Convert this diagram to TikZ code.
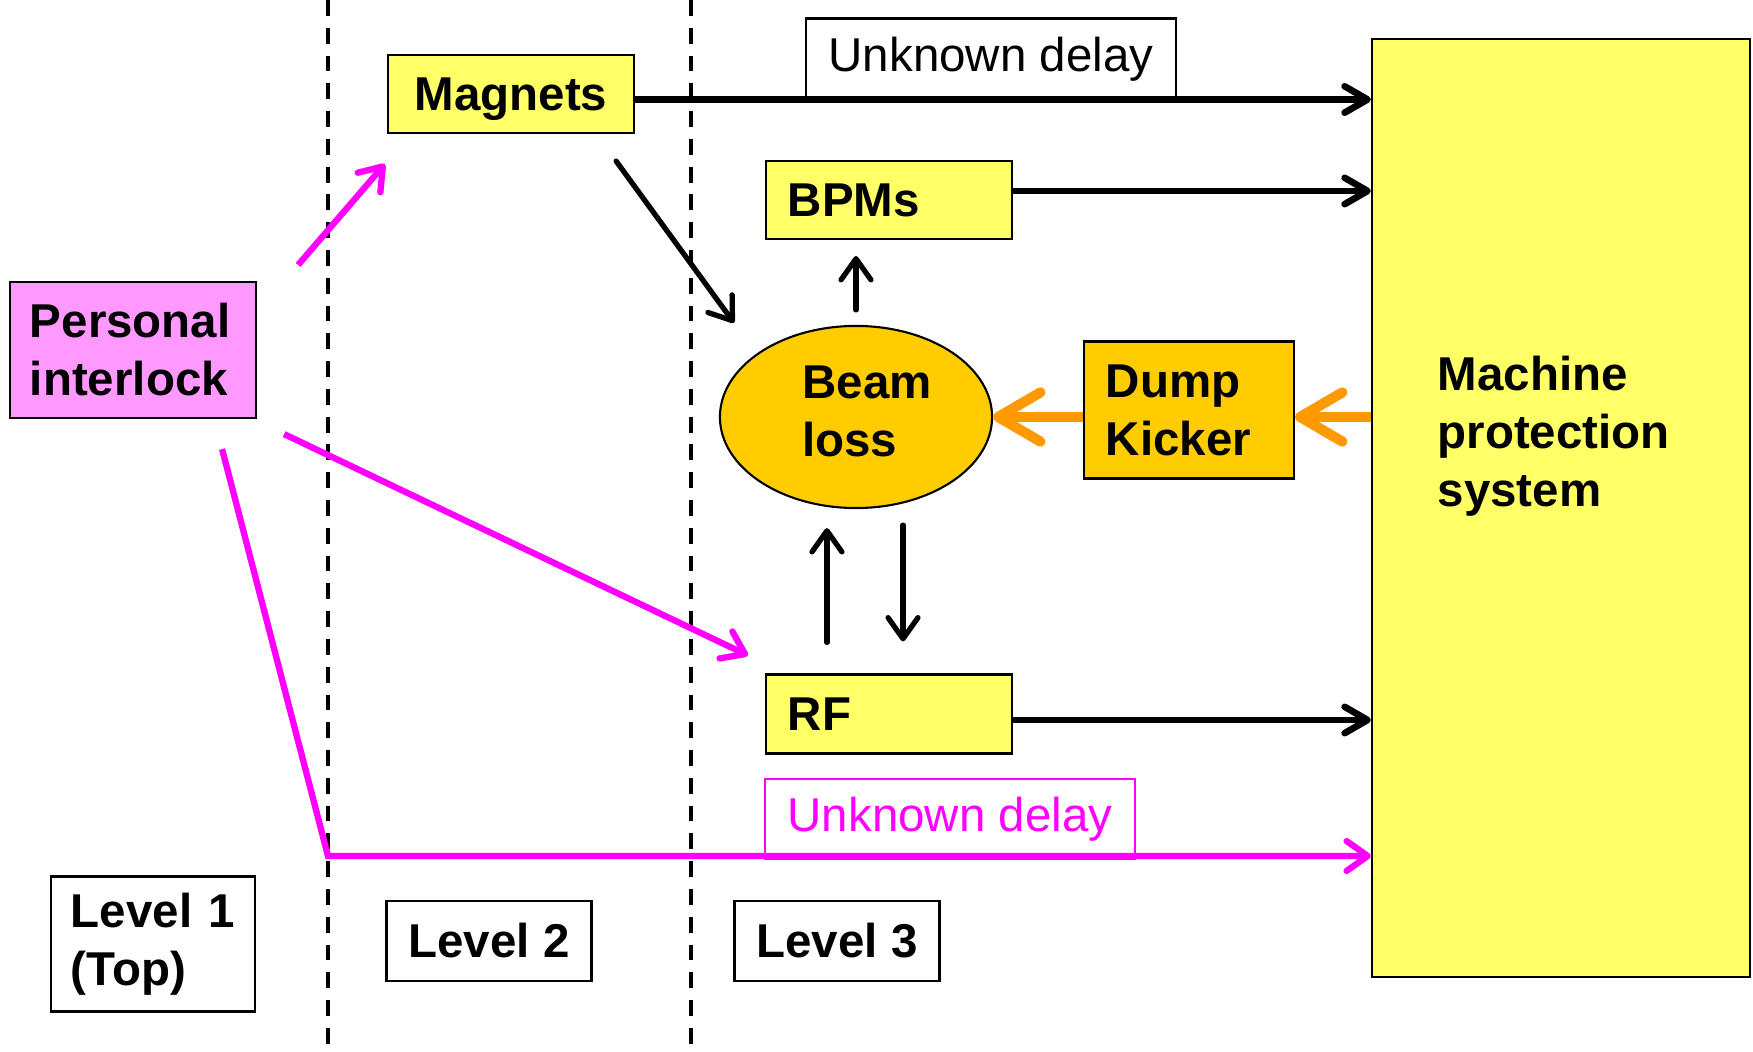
\documentclass[tikz,border=0pt]{standalone}
\usepackage{fontspec}
\setmainfont{Liberation Sans}
\usetikzlibrary{arrows.meta,shapes.geometric}
\definecolor{boxyellow}{HTML}{FFFF66}
\definecolor{beamgold}{HTML}{FFCC00}
\definecolor{kickorange}{HTML}{FF9900}
\definecolor{plink}{HTML}{FF00FF}
\definecolor{plinkfill}{HTML}{FF99FF}
\tikzset{
  boldtext/.style={font=\fontsize{13.5}{16.5}\selectfont\bfseries},
  box/.style={draw, line width=0.6pt, inner xsep=0.22cm, inner ysep=0pt, boldtext},
  ybox/.style={box, fill=boxyellow},
  delaybox/.style={draw, line width=0.6pt, inner sep=0pt, minimum width=3.69cm,
    minimum height=0.8cm, font=\fontsize{13.5}{16}\selectfont},
  levelline/.style={line width=1.1pt, dash pattern=on 4.5pt off 3.4pt},
  sigarrow/.style={line width=1.5pt, line cap=round, -{Straight Barb[round,length=6pt,width=8.5pt]}},
  mpsarrow/.style={line width=1.9pt, -{Straight Barb[round,length=6.5pt,width=7.5pt]}},
  pinkarrow/.style={plink, line width=1.8pt, -{Straight Barb[round,length=6pt,width=8.5pt]}},
  kickarrow/.style={kickorange, line width=2.9pt, -{Straight Barb[round,length=12pt,width=14pt]}}
}
\begin{document}
\begin{tikzpicture}[x=0.01cm, y=-0.01cm]
  \useasboundingbox (0,0) rectangle (1753,1052);
  % level separators
  \draw[levelline] (328,0) -- (328,1052);
  \draw[levelline] (691,0) -- (691,1052);

  % boxes
  \node[ybox, minimum width=2.46cm, minimum height=0.78cm, text depth=0pt] (magnets) at (511,94) {Magnets};
  \node[delaybox, minimum height=0.81cm] (delaytop) at (991,59) {Unknown delay};
  \node[ybox, minimum width=3.78cm, minimum height=9.37cm] (mps) at (1561,508) {};
  \node[boldtext, inner sep=0pt, anchor=west, align=left] (mpstext) at (1437,436) {Machine\\protection\\system};
  \node[ybox, minimum height=0.78cm, text width=2.02cm, align=left] (bpms) at (889,200) {BPMs};
  \node[draw, line width=0.6pt, ellipse, fill=beamgold, minimum width=2.72cm, minimum height=1.82cm,
    label={[boldtext, align=left, xshift=0.11cm, yshift=0.06cm]center:Beam\\loss}] (beamloss) at (856,417) {};
  \node[box, fill=beamgold, minimum height=1.37cm, text width=1.66cm, align=left]
    (dump) at (1189,410) {Dump\\Kicker};
  \node[ybox, minimum height=0.79cm, text width=2.02cm, align=left] (rf) at (889,714) {RF};
  \node[delaybox, draw=plink, text=plink] (delaybot) at (950,819) {Unknown delay};
  \node[box, fill=plinkfill, inner xsep=0.2cm, minimum height=1.36cm, text width=2.06cm,
    align=left] (personal) at (133,350) {Personal\\interlock};
  \node[box, fill=white, inner xsep=0.2cm, minimum height=1.35cm, text width=1.64cm,
    align=left] (level1) at (153,944) {Level 1\\(Top)};
  \node[box, fill=white, minimum width=2.03cm, minimum height=0.8cm] (level2) at (489,941) {Level 2};
  \node[box, fill=white, minimum width=2.03cm, minimum height=0.8cm] (level3) at (837,941) {Level 3};

  % signals to the machine protection system
  \draw[mpsarrow] ([yshift=-0.055cm]magnets.east) -- ([yshift=-0.055cm]magnets.east -| mps.west);
  \draw[mpsarrow] ([yshift=0.09cm]bpms.east) -- ([yshift=0.09cm]bpms.east -| mps.west);
  \draw[mpsarrow] ([yshift=-0.06cm]rf.east) -- ([yshift=-0.06cm]rf.east -| mps.west);

  % beam loss links
  \draw[sigarrow] ([xshift=-0.19cm,yshift=-0.27cm]magnets.south east)
    -- ([xshift=-0.25cm,yshift=0.29cm]beamloss.north west);
  \draw[sigarrow, shorten <=0.15cm, shorten >=0.16cm] (beamloss.north) -- (beamloss.north |- bpms.south);
  \draw[sigarrow] ([xshift=-0.62cm,yshift=0.31cm]rf.north)
    -- ([xshift=-0.62cm,yshift=-0.19cm]rf.north |- beamloss.south);
  \draw[sigarrow] ([xshift=0.14cm,yshift=-0.16cm]rf.north |- beamloss.south)
    -- ([xshift=0.14cm,yshift=0.32cm]rf.north);

  % kicker chain
  \draw[kickarrow] (mps.west |- beamloss.east) -- (dump.east |- beamloss.east);
  \draw[kickarrow] (dump.west |- beamloss.east) -- (beamloss.east);

  % personal interlock paths
  \coordinate (pbend) at (328,856);
  \draw[pinkarrow] ([xshift=0.41cm,yshift=0.16cm]personal.north east)
    -- ([xshift=-0.02cm,yshift=-0.3cm]magnets.south west);
  \draw[pinkarrow] ([xshift=0.27cm,yshift=-0.15cm]personal.south east)
    -- ([xshift=-0.17cm,yshift=0.18cm]rf.north west);
  \draw[pinkarrow] ([xshift=-0.35cm,yshift=-0.3cm]personal.south east)
    -- (pbend) -- (pbend -| mps.west);
\end{tikzpicture}
\end{document}
